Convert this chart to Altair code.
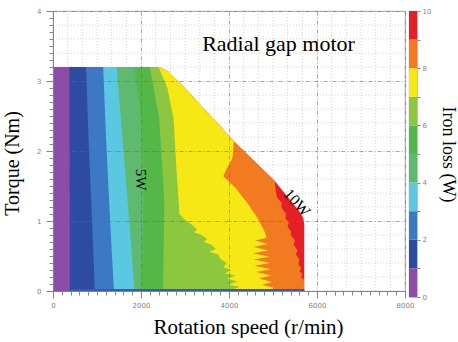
import altair as alt
import pandas as pd

# ---------------- data ----------------
# colour of each 1 W iron-loss band: 0-1, 1-2, ..., 9-10 W
BAND_COLORS = ["#8C4DA8", "#2D4BA0", "#3C78C3", "#5AC8E1", "#5FB96E",
               "#55B748", "#8DC63F", "#F5E814", "#F27A20", "#E42026"]
BAND_LEVELS = list(range(10))

# operating envelope: torque (Nm) -> max rotation speed (r/min)
ENV_T = [0.00, 0.95, 1.04, 1.12, 1.57, 2.14, 2.21, 2.95, 3.04, 3.14, 3.20]
ENV_N = [5710, 5710, 5690, 5620, 5040, 4110, 4010, 2920, 2765, 2610, 2420]

# iso-loss contour lines (speed at which the loss reaches k W, per torque)
B1_T = [0.0, 1.1, 2.2, 3.2]
B1_N = [380, 380, 375, 372]
B2_T = [0.0, 1.1, 2.2, 3.2]
B2_N = [950, 880, 805, 752]
B3_T = [0.0, 1.1, 2.2, 3.2]
B3_N = [1385, 1290, 1205, 1140]
B4_T = [0.0, 1.1, 2.2, 3.2]
B4_N = [1855, 1720, 1575, 1445]
B5_T = [0.0, 1.3, 2.5, 3.2]
B5_N = [2005, 2060, 2000, 1850]
B6_T = [0.0, 1.3, 2.46, 3.2]
B6_N = [2500, 2530, 2415, 2200]
B7_T = [0.00, 0.06, 0.09, 0.14, 0.17, 0.22, 0.25, 0.30, 0.34, 0.40,
        0.45, 0.52, 0.56, 0.60, 0.66, 0.70, 0.74, 0.80, 0.84, 0.88,
        0.95, 1.02, 1.10, 1.33, 1.80, 2.46, 2.90, 3.20]
B7_N = [4000, 4250, 3980, 4200, 3950, 4150, 3900, 4050, 3870, 3950,
        3820, 3750, 3550, 3700, 3600, 3420, 3500, 3380, 3200, 3280,
        3150, 2990, 2870, 2850, 2800, 2740, 2600, 2400]
B8_T = [0.00, 0.05, 0.09, 0.13, 0.18, 0.22, 0.27, 0.31, 0.36, 0.40,
        0.45, 0.49, 0.54, 0.58, 0.63, 0.67, 0.72, 0.76, 0.86, 1.04,
        1.23, 1.47, 1.64, 1.75, 1.90, 2.05, 2.14, 2.21, 2.95, 3.04,
        3.14, 3.20]
B8_N = [5000, 5000, 4750, 4980, 4680, 4960, 4620, 4950, 4580, 4930,
        4560, 4920, 4540, 4900, 4560, 4880, 4600, 4860, 4800, 4650,
        4450, 4150, 3870, 3950, 4080, 4100, 4110, 4010, 2920, 2765,
        2610, 2420]
B9_T = [0.00, 0.17, 0.19, 0.25, 0.28, 0.33, 0.38, 0.45, 0.52, 0.58,
        0.66, 0.72, 0.80, 0.85, 0.92, 0.98, 1.04, 1.10, 1.19, 1.26,
        1.33, 1.38, 1.45, 1.57, 2.14, 2.21, 2.95, 3.04, 3.14, 3.20]
B9_N = [5710, 5700, 5643, 5660, 5600, 5640, 5580, 5600, 5520, 5560,
        5470, 5500, 5400, 5410, 5330, 5360, 5280, 5300, 5190, 5200,
        5100, 5075, 5060, 5040, 4110, 4010, 2920, 2765, 2610, 2420]

# thin low-torque strip along the bottom
STRIP_T = [0.0, 0.03]
STRIP_N0 = [380, 380]
STRIP_N1 = [5710, 5710]

X_TICKS = list(range(0, 8001, 200))
Y_TICKS = [round(i * 0.1, 1) for i in range(41)]
X_MINOR_GRID = [round(i * 2000 / 6) for i in range(25) if i % 6]
Y_MINOR_GRID = [round(i * 0.2, 1) for i in range(1, 20) if i % 5]

SERIF = "Liberation Serif"

# ---------------- encodings ----------------
x_axis = alt.Axis(
    values=X_TICKS, title="Rotation speed (r/min)", titleFontSize=21,
    titlePadding=8, titleX=195,
    labelExpr="datum.value % 2000 === 0 ? datum.label : ''", format="d",
    labelOverlap=False, labelFlush=False, labelPadding=3,
    tickSize={"condition": {"test": "datum.value % 2000 === 0", "value": 7}, "value": 4},
    grid=True, gridDash=[4, 2, 1, 2], gridColor="#6a6a6a", gridWidth=0.6,
    gridOpacity={"condition": {"test": "datum.value % 2000 === 0", "value": 1}, "value": 0},
    zindex=1,
)
y_axis = alt.Axis(
    values=Y_TICKS, title="Torque (Nm)", titleFontSize=20, titlePadding=14,
    titleY=152,
    labelExpr="datum.value % 1 === 0 ? datum.label : ''", format=".0f",
    labelOverlap=False, labelFlush=False, labelPadding=5,
    tickSize={"condition": {"test": "datum.value % 1 === 0", "value": 7}, "value": 4},
    grid=True, gridDash=[4, 2, 1, 2], gridColor="#6a6a6a", gridWidth=0.6,
    gridOpacity={"condition": {"test": "datum.value % 1 === 0", "value": 1}, "value": 0},
    zindex=1,
)
X_ENC = alt.X("N:Q", scale=alt.Scale(domain=[0, 8000], nice=False, zero=False), axis=x_axis)
Y_ENC = alt.Y("T:Q", scale=alt.Scale(domain=[0, 4], nice=False, zero=False), axis=y_axis)

# ---------------- layers ----------------
layers = []
layers.append(
    alt.Chart(pd.DataFrame({"N": X_MINOR_GRID}))
    .mark_rule(color="#c8c8c8", strokeDash=[1, 2], strokeWidth=0.8)
    .encode(x=X_ENC)
)
layers.append(
    alt.Chart(pd.DataFrame({"T": Y_MINOR_GRID}))
    .mark_rule(color="#c8c8c8", strokeDash=[1, 2], strokeWidth=0.8)
    .encode(y=Y_ENC)
)

bounds = [(B1_T, B1_N), (B2_T, B2_N), (B3_T, B3_N), (B4_T, B4_N), (B5_T, B5_N),
          (B6_T, B6_N), (B7_T, B7_N), (B8_T, B8_N), (B9_T, B9_N), (ENV_T, ENV_N)]
# paint region "speed below contour k+1" with band k's colour, highest band first
for k in reversed(BAND_LEVELS):
    T, N = bounds[k]
    df = pd.DataFrame({"T": T, "N": N})
    layers.append(
        alt.Chart(df)
        .mark_area(orient="horizontal", color=BAND_COLORS[k], opacity=1)
        .encode(y=Y_ENC, x=X_ENC, x2=alt.datum(0))
    )

strip = pd.DataFrame({"T": STRIP_T, "N": STRIP_N0, "N1": STRIP_N1})
layers.append(
    alt.Chart(strip).mark_area(orient="horizontal", color="#3A5CB0")
    .encode(y=Y_ENC, x=X_ENC, x2="N1:Q")
)

layers.append(
    alt.Chart(pd.DataFrame({"N": [5125], "T": [3.43], "label": ["Radial gap motor"]}))
    .mark_text(font=SERIF, fontSize=22, align="center", baseline="alphabetic", color="black")
    .encode(x=X_ENC, y=Y_ENC, text="label:N")
)
layers.append(
    alt.Chart(pd.DataFrame({"N": [2000], "T": [1.59], "label": ["5W"]}))
    .mark_text(font=SERIF, fontSize=15, angle=90, align="center", baseline="middle", color="black")
    .encode(x=X_ENC, y=Y_ENC, text="label:N")
)
layers.append(
    alt.Chart(pd.DataFrame({"N": [5545], "T": [1.26], "label": ["10W"]}))
    .mark_text(font=SERIF, fontSize=16, angle=48, align="center", baseline="middle", color="black")
    .encode(x=X_ENC, y=Y_ENC, text="label:N")
)

main = alt.layer(*layers).properties(width=352, height=280)

# ---------------- colour bar ----------------
cb = pd.DataFrame({"lo": BAND_LEVELS, "hi": [v + 1 for v in BAND_LEVELS], "band": BAND_LEVELS})
cbar = (
    alt.Chart(cb)
    .mark_rect()
    .encode(
        y=alt.Y("lo:Q", scale=alt.Scale(domain=[0, 10], nice=False),
                axis=alt.Axis(orient="right", values=list(range(11)),
                              labelExpr="datum.value % 2 === 0 ? datum.label : ''",
                              labelOverlap=False, labelFlush=False, labelPadding=2,
                              tickSize=3, domain=False, grid=False,
                              title="Iron loss (W)", titleFontSize=18, titlePadding=8,
                              titleAngle=90)),
        y2="hi:Q",
        color=alt.Color("band:O", scale=alt.Scale(domain=BAND_LEVELS, range=BAND_COLORS), legend=None),
    )
    .properties(width=8, height=286)
)

chart = (
    alt.hconcat(main, cbar, spacing=4, bounds="flush")
    .properties(padding={"left": 2, "top": 6, "right": 0, "bottom": 0}, background="white")
    .configure_view(stroke="#9a9a9a", strokeWidth=0.8)
    .configure_axis(labelFont="DejaVu Sans", labelFontSize=7, labelColor="#858585",
                    tickColor="#858585", domainColor="#858585",
                    titleFont=SERIF, titleFontWeight="normal", titleColor="black")
)

chart.save("out.html", embed_options={"renderer": "svg", "actions": False})
